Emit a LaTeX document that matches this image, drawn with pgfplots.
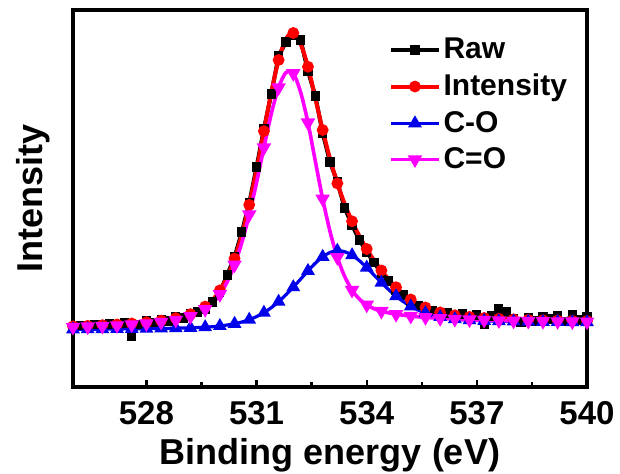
\documentclass[border=0pt]{standalone}
\usepackage{fontspec}
\setmainfont{Liberation Sans}
\usepackage{pgfplots}
\usepackage{pgfplotstable}
\pgfplotsset{compat=1.18}
\definecolor{xpsred}{RGB}{255,0,0}
\definecolor{xpsblue}{RGB}{0,0,235}
\definecolor{xpsmag}{RGB}{255,0,255}

% x, raw, fit (sum), C-O, C=O
\pgfplotstableread{
x raw fit co cdo
526.0 2.0 3.6 0.7 2.9
526.2 4.5 3.8 0.7 3.1
526.4 3.0 4.1 0.8 3.3
526.6 5.5 4.4 0.8 3.6
526.8 3.5 4.8 0.9 3.9
527.0 6.0 5.1 0.9 4.2
527.2 4.0 5.5 1.0 4.5
527.4 7.0 6.0 1.1 4.9
527.6 -6.0 6.5 1.1 5.4
527.8 5.5 7.1 1.2 5.9
528.0 9.0 7.7 1.3 6.4
528.2 7.5 8.5 1.4 7.1
528.4 10.5 9.4 1.5 7.9
528.6 9.0 10.5 1.6 8.9
528.8 13.5 11.8 1.8 10.0
529.0 12.0 13.5 2.0 11.5
529.2 16.5 15.8 2.2 13.6
529.4 18.0 19.0 2.5 16.5
529.6 21.0 23.4 2.8 20.6
529.8 28.0 29.9 3.3 26.6
530.0 38.0 39.6 4.0 35.6
530.2 55.0 53.1 5.0 48.1
530.4 73.0 71.4 6.2 65.2
530.6 98.0 95.4 8.0 87.7
530.8 127.0 125.2 10.3 115.3
531.0 163.0 160.4 13.4 147.5
531.2 201.0 198.9 17.3 182.3
531.4 236.0 237.5 22.3 216.2
531.6 274.0 270.0 28.3 242.4
531.8 288.0 291.0 35.2 257.5
532.0 295.0 297.0 42.8 256.6
532.2 290.0 286.0 50.9 237.7
532.4 259.0 263.2 59.1 207.3
532.6 234.0 231.8 66.8 168.8
532.8 197.0 200.0 73.2 131.2
533.0 168.0 171.2 77.5 98.6
533.2 148.0 146.6 79.3 72.6
533.4 122.0 126.1 78.3 53.5
533.6 105.0 108.7 74.8 39.9
533.8 90.0 93.9 69.3 30.9
534.0 78.0 81.0 62.4 25.1
534.2 67.5 69.6 54.9 21.3
534.4 57.0 59.5 47.4 18.8
534.6 49.0 50.6 40.3 17.1
534.8 40.0 42.7 33.9 15.7
535.0 35.0 36.1 28.3 14.8
535.2 29.0 30.5 23.6 13.9
535.4 24.5 26.1 19.9 13.2
535.6 20.0 22.5 16.9 12.6
535.8 19.5 19.8 14.7 12.1
536.0 15.0 17.6 13.0 11.6
536.2 17.0 16.0 11.8 11.2
536.4 12.0 14.7 10.9 10.8
536.6 16.0 13.8 10.3 10.5
536.8 10.5 13.1 9.8 10.3
537.0 15.0 12.5 9.5 10.0
537.2 6.0 12.0 9.2 9.8
537.4 14.0 11.6 9.0 9.6
537.6 21.0 11.2 8.8 9.4
537.8 18.0 10.9 8.6 9.3
538.0 11.0 10.6 8.5 9.1
538.2 8.0 10.4 8.4 9.0
538.4 12.5 10.2 8.3 8.9
538.6 9.0 10.0 8.2 8.8
538.8 13.0 9.8 8.1 8.7
539.0 11.0 9.7 8.1 8.6
539.2 14.0 9.5 8.0 8.5
539.4 8.5 9.3 7.9 8.4
539.6 15.0 9.2 7.9 8.3
539.8 10.0 9.1 7.8 8.3
540.0 13.0 9.0 7.8 8.2
}\xps

\begin{document}
\begin{tikzpicture}
\begin{axis}[
  scale only axis,
  width=257pt, height=188.5pt,
  xmin=526, xmax=540,
  ymin=-57, ymax=320,
  xtick={528,531,534,537,540},
  minor x tick num=1,
  ytick=\empty,
  xtick pos=left,
  tick align=inside,
  major tick length=3.5pt,
  minor tick length=2.5pt,
  every tick/.style={black, line width=1.2pt},
  axis line style={line width=2pt},
  /pgf/number format/assume math mode=true,
  /pgf/number format/1000 sep={},
  xticklabel style={font=\fontsize{16.5}{18}\selectfont\bfseries, inner sep=0pt, yshift=-6.8pt},
  xlabel={Binding energy (eV)},
  ylabel={Intensity},
  xlabel style={font=\fontsize{18}{20}\selectfont\bfseries, inner sep=0pt, at={(axis description cs:0.5,-0.135)}, anchor=north},
  ylabel style={font=\fontsize{18}{20}\selectfont\bfseries, inner sep=0pt, at={(axis description cs:-0.045,0.5)}, anchor=south},
  legend style={at={(axis description cs:0.603,0.945)}, anchor=north west, draw=none, fill=none,
    font=\fontsize{15}{17}\selectfont\bfseries, row sep=3.2pt, nodes={inner sep=1.5pt}},
  legend cell align=left,
  legend image code/.code={
    \draw[mark repeat=2,mark phase=2] plot coordinates {(0cm,0cm) (0.415cm,0cm) (0.83cm,0cm)};
  },
]
\addplot[black, line width=2pt, mark=square*, mark size=1.3pt, mark options={solid}]
  table[x=x, y=raw] {\xps};
\addplot[xpsred, line width=2pt, smooth, mark=*, mark size=1.9pt, mark repeat=2, mark options={solid}]
  table[x=x, y=fit] {\xps};
\addplot[xpsblue, line width=1.6pt, smooth, mark=triangle*, mark size=2.4pt, mark repeat=2, mark options={solid}]
  table[x=x, y=co] {\xps};
\addplot[xpsmag, line width=1.8pt, smooth, mark=triangle*, mark size=2.4pt, mark repeat=2, mark options={solid, rotate=180}]
  table[x=x, y=cdo] {\xps};
\legend{Raw, Intensity, C-O, C=O}
\end{axis}
% fix the page to the reference margins round the axis box
\path (current axis.south west) ++(-36.5pt,-43.5pt) coordinate (bbsw);
\path (current axis.north east) ++(16.5pt,5pt) coordinate (bbne);
\path (bbsw) rectangle (bbne);
\end{tikzpicture}
\end{document}
